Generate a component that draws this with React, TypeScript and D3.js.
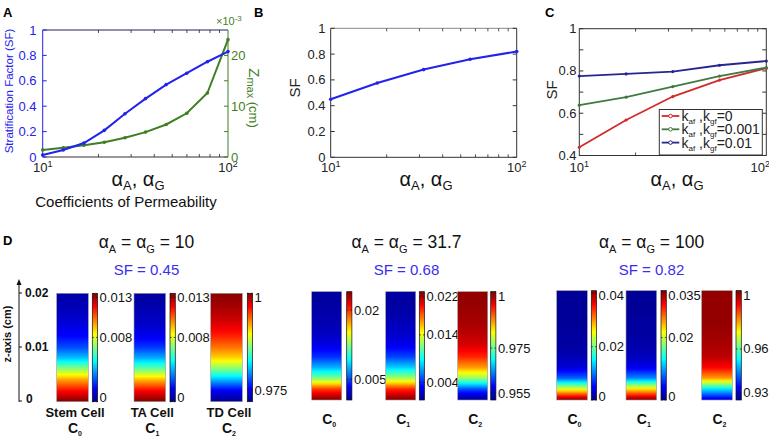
import React from "react";
import * as d3 from "d3";

const FONT = "Arial, 'Liberation Sans', Helvetica, sans-serif";

// ---------- Panel A ----------
const alphaA = [10, 12.9, 16.7, 21.5, 27.8, 35.9, 46.4, 59.9, 77.4, 100];
const sfA = [0.015, 0.055, 0.11, 0.21, 0.34, 0.46, 0.57, 0.66, 0.75, 0.83];
const zmaxA = [1.4, 1.8, 2.3, 2.9, 3.8, 4.9, 6.4, 8.6, 12.6, 23.1]; // x1e-3 cm
const sfTicks = [0, 0.2, 0.4, 0.6, 0.8, 1];
const zmaxTicks = [0, 10, 20];
const zmaxMinorTicks = [5, 15];

// ---------- Panels B, C ----------
const alphaBC = [10, 17.8, 31.6, 56.2, 100];
const sfB = [0.45, 0.576, 0.68, 0.76, 0.82];
const sfCk0 = [0.439, 0.568, 0.679, 0.757, 0.813];
const sfCk001 = [0.638, 0.676, 0.726, 0.776, 0.816];
const sfCk01 = [0.776, 0.786, 0.797, 0.827, 0.847];
const legendC = ["0", "0.001", "0.01"];
const cTicks = [0.4, 0.6, 0.8, 1];
const cMinorTicks = [0.5, 0.7, 0.9];
const xMajor = [10, 100];
const xMinor = [20, 30, 40, 50, 60, 70, 80, 90];

// ---------- Panel D ----------
const alphaTitles = ["10", "31.7", "100"];
const sfTitles = ["0.45", "0.68", "0.82"];
const zLevels = [0, 0.002, 0.004, 0.006, 0.008, 0.01, 0.012, 0.014, 0.016, 0.018, 0.02];
const zTicks = [0, 0.01, 0.02];
const cellNames = ["Stem Cell", "TA Cell", "TD Cell"];
// normalized colour level (0..1 of colorbar) from z = 0 (bottom) to z = 0.02 (top)
const prof10C0 = [1.0, 0.87, 0.72, 0.52, 0.32, 0.2, 0.13, 0.09, 0.06, 0.04, 0.03];
const prof10C1 = [1.0, 0.88, 0.7, 0.48, 0.3, 0.18, 0.11, 0.07, 0.05, 0.03, 0.02];
const prof10C2 = [0.0, 0.11, 0.3, 0.5, 0.66, 0.76, 0.84, 0.9, 0.94, 0.97, 0.99];
const prof31C0 = [1.0, 0.82, 0.5, 0.3, 0.17, 0.1, 0.06, 0.04, 0.03, 0.02, 0.02];
const prof31C1 = [1.0, 0.84, 0.54, 0.33, 0.19, 0.11, 0.07, 0.05, 0.03, 0.02, 0.02];
const prof31C2 = [0.0, 0.2, 0.52, 0.72, 0.84, 0.91, 0.94, 0.96, 0.97, 0.98, 0.98];
const prof100C0 = [1.0, 0.6, 0.22, 0.08, 0.04, 0.02, 0.02, 0.01, 0.01, 0.01, 0.01];
const prof100C1 = [1.0, 0.65, 0.26, 0.1, 0.05, 0.03, 0.02, 0.02, 0.01, 0.01, 0.01];
const prof100C2 = [0.08, 0.35, 0.72, 0.88, 0.94, 0.96, 0.97, 0.98, 0.98, 0.98, 0.98];
const cbDomain10 = [[0, 0.0135], [0, 0.0135], [0.972, 1]];
const cbDomain31 = [[0.0005, 0.024], [0.0003, 0.0231], [0.952, 1.0]];
const cbDomain100 = [[0, 0.041], [0, 0.035], [0.925, 1.0]];
const cbTicks10 = [[0, 0.008, 0.013], [0, 0.008, 0.013], [0.975, 1]];
const cbTicks31 = [[0.005, 0.02], [0.004, 0.014, 0.022], [0.955, 0.975, 1]];
const cbTicks100 = [[0, 0.02, 0.04], [0, 0.02, 0.035], [0.93, 0.96, 1]];

const BLUE = "#2222ee";
const GREEN = "#3f7f24";
const RED = "#d22b2b";
const LGREEN = "#3f7a45";
const NAVY = "#26268f";

const jetStops = [0, 0.125, 0.375, 0.625, 0.875, 1];
const jet = d3
  .scaleLinear<string>()
  .domain(jetStops)
  .range(["#00008f", "#0000ff", "#00ffff", "#ffff00", "#ff0000", "#800000"])
  .clamp(true);

function fmtTick(v: number) {
  return d3.format("~g")(+v.toFixed(4));
}

function LogXAxis({ x, y0, y1, color = "#222", labelY, lastShift = 0 }: any) {
  return (
    <g>
      {xMinor.map((v) => (
        <g key={"m" + v}>
          <line x1={x(v)} x2={x(v)} y1={y1} y2={y1 - 3} stroke={color} strokeWidth={0.8} />
          <line x1={x(v)} x2={x(v)} y1={y0} y2={y0 + 3} stroke={color} strokeWidth={0.8} />
        </g>
      ))}
      {xMajor.map((v, i) => (
        <text
          key={"l" + v}
          x={x(v) + (i === xMajor.length - 1 ? lastShift : 0)}
          y={labelY}
          textAnchor="middle"
          fontSize={13}
          fontFamily={FONT}
          fill="#222"
        >
          10<tspan dy={-5} fontSize={9}>{i + 1}</tspan>
        </text>
      ))}
    </g>
  );
}

function AlphaLabel({ cx, y }: any) {
  return (
    <text x={cx} y={y} textAnchor="middle" fontFamily={FONT} fill="#111">
      <tspan fontSize={20}>α</tspan>
      <tspan fontSize={13} dy={4}>A</tspan>
      <tspan fontSize={20} dy={-4}>, α</tspan>
      <tspan fontSize={13} dy={4}>G</tspan>
    </text>
  );
}

function PanelA() {
  const x = d3.scaleLog().domain([10, 100]).range([42.7, 228]);
  const yL = d3.scaleLinear().domain([0, 1]).range([157, 30]);
  const yR = d3.scaleLinear().domain([0, 25]).range([157, 30]);
  const lineL = d3.line<number>().x((_, i) => x(alphaA[i])).y((d) => yL(d));
  const lineR = d3.line<number>().x((_, i) => x(alphaA[i])).y((d) => yR(d));
  const [x0, x1] = x.range();
  return (
    <g>
      <text x={3} y={17} fontSize={13} fontWeight="bold" fontFamily={FONT}>A</text>
      <line x1={x0} x2={x1} y1={30} y2={30} stroke="#22225a" strokeWidth={1} />
      <line x1={x0} x2={x1} y1={157} y2={157} stroke="#333" strokeWidth={1} />
      <line x1={x0} x2={x0} y1={30} y2={157} stroke={BLUE} strokeWidth={1} />
      <line x1={x1} x2={x1} y1={30} y2={157} stroke={GREEN} strokeWidth={1} />
      <LogXAxis x={x} y0={30} y1={157} labelY={172} />
      {sfTicks.map((v) => (
        <g key={v}>
          <line x1={x0} x2={x0 + 4} y1={yL(v)} y2={yL(v)} stroke={BLUE} />
          <text x={36.5} y={yL(v) + 4.5} textAnchor="end" fontSize={13} fontFamily={FONT} fill={BLUE}>
            {fmtTick(v)}
          </text>
        </g>
      ))}
      {zmaxTicks.concat(zmaxMinorTicks).map((v) => (
        <line key={"r" + v} x1={x1} x2={x1 - 4} y1={yR(v)} y2={yR(v)} stroke={GREEN} />
      ))}
      {zmaxTicks.map((v) => (
        <text key={"rl" + v} x={231} y={yR(v) + 4.5} fontSize={13} fontFamily={FONT} fill={GREEN}>
          {v}
        </text>
      ))}
      <text x={216} y={25} fontSize={11} fontFamily={FONT} fill={GREEN}>
        ×10<tspan dy={-4} fontSize={8}>-3</tspan>
      </text>
      <path d={lineR(zmaxA) || ""} fill="none" stroke={GREEN} strokeWidth={2} />
      {zmaxA.map((d, i) => (
        <circle key={"g" + i} cx={x(alphaA[i])} cy={yR(d)} r={1.8} fill={GREEN} />
      ))}
      <path d={lineL(sfA) || ""} fill="none" stroke={BLUE} strokeWidth={2} />
      {sfA.map((d, i) => (
        <circle key={"b" + i} cx={x(alphaA[i])} cy={yL(d)} r={1.8} fill={BLUE} />
      ))}
      <text transform="translate(13,91) rotate(-90)" textAnchor="middle" fontSize={11.5} fontFamily={FONT} fill={BLUE}>
        Stratification Factor (SF)
      </text>
      <text transform="translate(248.5,98) rotate(90)" textAnchor="middle" fontFamily={FONT} fill={GREEN}>
        <tspan fontSize={15}>Z</tspan>
        <tspan fontSize={11} dy={2}>max</tspan>
        <tspan fontSize={13} dy={-2}> (cm)</tspan>
      </text>
      <AlphaLabel cx={138} y={186} />
      <text x={126} y={207} textAnchor="middle" fontSize={15} fontFamily={FONT} fill="#111">
        Coefficients of Permeability
      </text>
    </g>
  );
}

function PanelB() {
  const x = d3.scaleLog().domain([10, 100]).range([330.7, 516.7]);
  const y = d3.scaleLinear().domain([0, 1]).range([157.3, 28.3]);
  const line = d3.line<number>().x((_, i) => x(alphaBC[i])).y((d) => y(d));
  const [x0, x1] = x.range();
  return (
    <g>
      <text x={254} y={17} fontSize={13} fontWeight="bold" fontFamily={FONT}>B</text>
      <line x1={x0} x2={x1} y1={28.3} y2={28.3} stroke="#8a8a8a" strokeWidth={1} />
      <line x1={x0} x2={x1} y1={157.3} y2={157.3} stroke="#333" strokeWidth={1} />
      <line x1={x0} x2={x0} y1={28.3} y2={157.3} stroke="#333" strokeWidth={1} />
      <line x1={x1} x2={x1} y1={28.3} y2={157.3} stroke="#333" strokeWidth={1} />
      <LogXAxis x={x} y0={28.3} y1={157.3} labelY={172} />
      {sfTicks.map((v) => (
        <g key={v}>
          <line x1={x0} x2={x0 + 4} y1={y(v)} y2={y(v)} stroke="#333" />
          <line x1={x1} x2={x1 - 4} y1={y(v)} y2={y(v)} stroke="#333" />
          <text x={325.5} y={y(v) + 4.5} textAnchor="end" fontSize={13} fontFamily={FONT} fill="#222">
            {fmtTick(v)}
          </text>
        </g>
      ))}
      <path d={line(sfB) || ""} fill="none" stroke={BLUE} strokeWidth={2} />
      {sfB.map((d, i) => (
        <circle key={i} cx={x(alphaBC[i])} cy={y(d)} r={1.8} fill={BLUE} />
      ))}
      <text transform="translate(300,88) rotate(-90)" textAnchor="middle" fontSize={15} fontFamily={FONT} fill="#222">
        SF
      </text>
      <AlphaLabel cx={426} y={186} />
    </g>
  );
}

function PanelC() {
  const x = d3.scaleLog().domain([10, 100]).range([579.3, 766.3]);
  const y = d3.scaleLinear().domain([0.4, 1]).range([155.5, 28.7]);
  const line = d3.line<number>().x((_, i) => x(alphaBC[i])).y((d) => y(d));
  const [x0, x1] = x.range();
  const series = [
    { v: sfCk0, c: RED },
    { v: sfCk001, c: LGREEN },
    { v: sfCk01, c: NAVY },
  ];
  const legY = [116, 129.3, 142.6];
  return (
    <g>
      <text x={545} y={17} fontSize={13} fontWeight="bold" fontFamily={FONT}>C</text>
      <rect x={x0} y={28.7} width={x1 - x0} height={155.5 - 28.7} fill="none" stroke="#333" strokeWidth={1} />
      <LogXAxis x={x} y0={28.7} y1={155.5} labelY={172} lastShift={-6} />
      {cTicks.concat(cMinorTicks).map((v) => (
        <g key={v}>
          <line x1={x0} x2={x0 + 4} y1={y(v)} y2={y(v)} stroke="#333" />
          <line x1={x1} x2={x1 - 4} y1={y(v)} y2={y(v)} stroke="#333" />
        </g>
      ))}
      {cTicks.map((v) => (
        <text key={"l" + v} x={576.5} y={y(v) + 4.5} textAnchor="end" fontSize={13} fontFamily={FONT} fill="#222">
          {fmtTick(v)}
        </text>
      ))}
      {series.map((s, k) => (
        <g key={k}>
          <path d={line(s.v) || ""} fill="none" stroke={s.c} strokeWidth={1.8} />
          {s.v.map((d, i) => (
            <circle key={i} cx={x(alphaBC[i])} cy={y(d)} r={1.6} fill={s.c} />
          ))}
        </g>
      ))}
      <rect x={659.3} y={109.5} width={103} height={45.5} fill="#fff" stroke="#333" strokeWidth={1} />
      {legendC.map((t, k) => (
        <g key={t}>
          <line x1={661.7} x2={679.3} y1={legY[k]} y2={legY[k]} stroke={series[k].c} strokeWidth={1.8} />
          <circle cx={670.5} cy={legY[k]} r={1.8} fill="#fff" stroke={series[k].c} strokeWidth={1} />
          <text x={681.5} y={legY[k] + 5} fontFamily={FONT} fill="#222">
            <tspan fontSize={14}>k</tspan>
            <tspan fontSize={8} dy={3}>af</tspan>
            <tspan fontSize={14} dy={-3}> ,k</tspan>
            <tspan fontSize={8} dy={3}>gf</tspan>
            <tspan fontSize={14} dy={-3}>={t}</tspan>
          </text>
        </g>
      ))}
      <text transform="translate(557,90) rotate(-90)" textAnchor="middle" fontSize={15} fontFamily={FONT} fill="#222">
        SF
      </text>
      <AlphaLabel cx={677} y={186} />
    </g>
  );
}

const groups = [
  {
    cx: 146.5, top: 293.3, bottom: 401.7,
    heatX: [56.7, 134, 210.7], heatW: 31.6, cbX: [92.3, 170, 247.3], cbW: 5.3,
    profiles: [prof10C0, prof10C1, prof10C2], domains: cbDomain10, ticks: cbTicks10,
    names: true, cLabelY: 433,
  },
  {
    cx: 406.5, top: 291.7, bottom: 400,
    heatX: [311.7, 385.7, 457.7], heatW: 30, cbX: [346.7, 419.3, 490.7], cbW: 5.2,
    profiles: [prof31C0, prof31C1, prof31C2], domains: cbDomain31, ticks: cbTicks31,
    names: false, cLabelY: 424,
  },
  {
    cx: 651.5, top: 290.7, bottom: 400,
    heatX: [556.7, 626, 701.7], heatW: 30.6, cbX: [591.3, 661, 736], cbW: 5.3,
    profiles: [prof100C0, prof100C1, prof100C2], domains: cbDomain100, ticks: cbTicks100,
    names: false, cLabelY: 424,
  },
];

function profileStops(prof: number[]) {
  const zs = d3.scaleLinear().domain([0, 0.02]).range([0, 1]);
  const stops: { o: number; c: string }[] = [];
  for (let i = 0; i < prof.length - 1; i++) {
    const interp = d3.interpolateNumber(prof[i], prof[i + 1]);
    const oi = d3.interpolateNumber(zs(zLevels[i]), zs(zLevels[i + 1]));
    for (let j = 0; j < 6; j++) {
      const t = j / 6;
      stops.push({ o: oi(t), c: jet(interp(t)) });
    }
  }
  stops.push({ o: 1, c: jet(prof[prof.length - 1]) });
  return stops;
}

function PanelD() {
  const zScale = d3.scaleLinear().domain([0, 0.02]).range([401, 293]);
  return (
    <g fontFamily={FONT}>
      <text x={3} y={245} fontSize={13} fontWeight="bold">D</text>
      <defs>
        <linearGradient id="jetbar" x1="0" y1="1" x2="0" y2="0">
          {jetStops.map((s) => (
            <stop key={s} offset={s} stopColor={jet(s)} />
          ))}
        </linearGradient>
        {groups.map((g, gi) =>
          g.profiles.map((p, k) => (
            <linearGradient key={gi + "-" + k} id={`hm${gi}${k}`} x1="0" y1="1" x2="0" y2="0">
              {profileStops(p).map((s, si) => (
                <stop key={si} offset={s.o} stopColor={s.c} />
              ))}
            </linearGradient>
          ))
        )}
      </defs>
      {/* z axis */}
      <line x1={19} x2={19} y1={284} y2={401.7} stroke="#111" strokeWidth={1} />
      <path d="M19,279 L16.5,285 L21.5,285 Z" fill="#111" />
      {zTicks.map((v) => (
        <g key={v}>
          <line x1={19} x2={22} y1={zScale(v)} y2={zScale(v)} stroke="#111" />
          <text x={v === 0 ? 26 : 25} y={zScale(v) + (v === 0 ? 2 : 4)} fontSize={12} fontWeight="bold" fill="#111">
            {v === 0 ? "0" : v.toFixed(2)}
          </text>
        </g>
      ))}
      <text transform="translate(11,334) rotate(-90)" textAnchor="middle" fontSize={11} fontWeight="bold" fill="#111">
        z-axis  (cm)
      </text>
      {groups.map((g, gi) => (
        <g key={gi}>
          <text x={g.cx} y={248} textAnchor="middle" fill="#111">
            <tspan fontSize={17.5}>α</tspan>
            <tspan fontSize={11} dy={5}>A</tspan>
            <tspan fontSize={17.5} dy={-5}> = α</tspan>
            <tspan fontSize={11} dy={5}>G</tspan>
            <tspan fontSize={17.5} dy={-5}> = {alphaTitles[gi]}</tspan>
          </text>
          <text x={g.cx} y={275} textAnchor="middle" fontSize={15} fill="#3a2df0">
            SF = {sfTitles[gi]}
          </text>
          {g.profiles.map((p, k) => {
            const cbScale = d3.scaleLinear().domain(g.domains[k]).range([g.bottom, g.top]);
            const hx = g.heatX[k];
            const cbx = g.cbX[k];
            const lx = hx + g.heatW / 2 + 2.5;
            return (
              <g key={k}>
                <rect x={hx} y={g.top} width={g.heatW} height={g.bottom - g.top} fill={`url(#hm${gi}${k})`} stroke="#9a9a9a" strokeWidth={0.6} />
                <rect x={cbx} y={g.top} width={g.cbW} height={g.bottom - g.top} fill="url(#jetbar)" stroke="#111" strokeWidth={0.7} />
                {g.ticks[k].map((v) => {
                  const ty = cbScale(v);
                  const ly = Math.max(g.top + 4.5, Math.min(g.bottom - 4, ty));
                  return (
                    <g key={v}>
                      <line x1={cbx} x2={cbx + 1.5} y1={ty} y2={ty} stroke="#111" strokeWidth={0.7} />
                      <line x1={cbx + g.cbW} x2={cbx + g.cbW - 1.5} y1={ty} y2={ty} stroke="#111" strokeWidth={0.7} />
                      <text x={cbx + g.cbW + 2} y={ly + 4.5} fontSize={13} fill="#111">
                        {fmtTick(v)}
                      </text>
                    </g>
                  );
                })}
                {g.names && (
                  <text x={lx} y={417} textAnchor="middle" fontSize={13} fontWeight="bold" fill="#111">
                    {cellNames[k]}
                  </text>
                )}
                <text x={lx} y={g.cLabelY} textAnchor="middle" fontWeight="bold" fill="#111">
                  <tspan fontSize={14}>C</tspan>
                  <tspan fontSize={7} dy={3}>{k}</tspan>
                </text>
              </g>
            );
          })}
        </g>
      ))}
    </g>
  );
}

export default function App() {
  return (
    <svg
      width={769}
      height={437}
      viewBox="0 0 769 437"
      style={{ position: "absolute", left: 0, top: 0, background: "#fff" }}
    >
      <rect x={0} y={0} width={769} height={437} fill="#fff" />
      <PanelA />
      <PanelB />
      <PanelC />
      <PanelD />
    </svg>
  );
}
